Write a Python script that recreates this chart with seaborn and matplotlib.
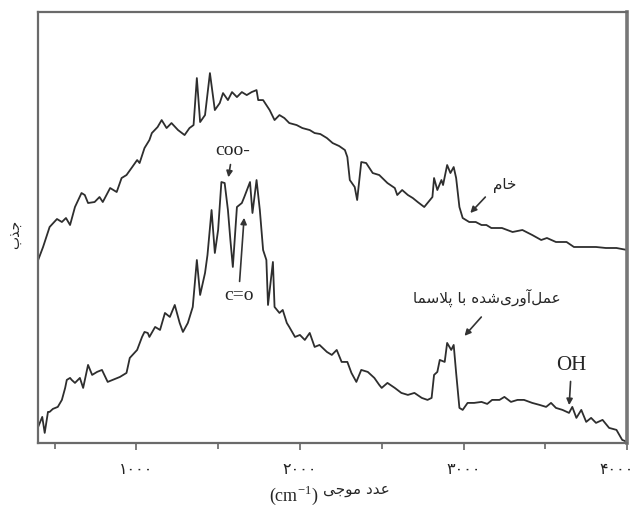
import numpy as np
import pandas as pd
import seaborn as sns
import matplotlib.pyplot as plt
import matplotlib.transforms as mtrans
from matplotlib.ticker import MultipleLocator

# wavenumber (cm-1) and absorbance (a.u.)
raw_wn = [400, 430, 470, 515, 545, 570, 595, 625, 665, 685, 705, 745, 775, 795,
          840, 880, 910, 940, 975, 1005, 1020, 1050, 1080, 1095, 1130, 1155, 1185,
          1215, 1255, 1295, 1325, 1350, 1370, 1390, 1420, 1450, 1480, 1510, 1530,
          1560, 1585, 1615, 1645, 1675, 1705, 1735, 1745, 1775, 1815, 1845, 1875,
          1905, 1935, 1980, 2015, 2060, 2090, 2125, 2165, 2200, 2240, 2275, 2290,
          2305, 2335, 2350, 2375, 2405, 2445, 2485, 2535, 2580, 2595, 2625, 2660,
          2690, 2720, 2760, 2780, 2810, 2820, 2840, 2865, 2875, 2900, 2920, 2940,
          2955, 2975, 2995, 3035, 3075, 3110, 3140, 3170, 3235, 3300, 3360, 3420,
          3475, 3510, 3565, 3630, 3675, 3750, 3810, 3870, 3935, 4000]
raw_abs = [1.83, 1.96, 2.16, 2.24, 2.21, 2.25, 2.18, 2.36, 2.50, 2.48, 2.40, 2.41,
           2.46, 2.41, 2.55, 2.51, 2.65, 2.68, 2.76, 2.83, 2.80, 2.95, 3.03, 3.10,
           3.16, 3.23, 3.15, 3.20, 3.13, 3.08, 3.15, 3.18, 3.65, 3.21, 3.28, 3.70,
           3.33, 3.40, 3.50, 3.43, 3.51, 3.46, 3.51, 3.48, 3.51, 3.53, 3.43, 3.43,
           3.33, 3.23, 3.28, 3.25, 3.20, 3.18, 3.15, 3.13, 3.10, 3.09, 3.05, 3.00,
           2.97, 2.93, 2.86, 2.63, 2.56, 2.43, 2.81, 2.80, 2.70, 2.68, 2.60, 2.55,
           2.48, 2.53, 2.48, 2.45, 2.41, 2.36, 2.40, 2.46, 2.65, 2.53, 2.63, 2.58,
           2.78, 2.70, 2.76, 2.65, 2.36, 2.25, 2.21, 2.21, 2.18, 2.18, 2.15, 2.15,
           2.11, 2.13, 2.08, 2.03, 2.05, 2.01, 2.01, 1.96, 1.96, 1.96, 1.95, 1.95,
           1.93]

plasma_wn = [400, 425, 440, 460, 470, 490, 520, 545, 565, 575, 595, 605, 625, 655,
             675, 705, 730, 760, 790, 825, 855, 900, 940, 960, 1005, 1035, 1050,
             1070, 1080, 1115, 1145, 1175, 1205, 1235, 1265, 1285, 1315, 1345, 1370,
             1390, 1420, 1435, 1460, 1480, 1500, 1520, 1540, 1560, 1575, 1590, 1615,
             1645, 1660, 1695, 1710, 1735, 1755, 1775, 1795, 1805, 1835, 1845, 1875,
             1895, 1920, 1935, 1970, 2000, 2030, 2060, 2090, 2120, 2165, 2195, 2225,
             2255, 2290, 2315, 2345, 2375, 2415, 2455, 2485, 2500, 2535, 2580, 2620,
             2660, 2700, 2745, 2780, 2805, 2820, 2840, 2855, 2885, 2900, 2925, 2940,
             2955, 2975, 2995, 3025, 3065, 3110, 3145, 3175, 3220, 3250, 3290, 3330,
             3370, 3420, 3465, 3505, 3535, 3565, 3605, 3645, 3665, 3690, 3720, 3750,
             3780, 3810, 3850, 3890, 3935, 3970, 4000]
plasma_abs = [0.16, 0.26, 0.10, 0.31, 0.31, 0.34, 0.36, 0.43, 0.55, 0.63, 0.65,
              0.63, 0.60, 0.65, 0.55, 0.78, 0.68, 0.71, 0.73, 0.61, 0.63, 0.66,
              0.70, 0.85, 0.93, 1.06, 1.11, 1.10, 1.06, 1.16, 1.13, 1.30, 1.26,
              1.38, 1.20, 1.11, 1.20, 1.36, 1.83, 1.48, 1.70, 1.88, 2.33, 1.90,
              2.13, 2.61, 2.60, 2.33, 2.03, 1.76, 2.36, 2.40, 2.46, 2.61, 2.30,
              2.63, 2.33, 1.93, 1.83, 1.38, 1.81, 1.36, 1.30, 1.33, 1.20, 1.16,
              1.06, 1.08, 1.03, 1.10, 0.96, 0.98, 0.91, 0.88, 0.93, 0.81, 0.81,
              0.70, 0.61, 0.73, 0.71, 0.65, 0.58, 0.55, 0.60, 0.55, 0.50, 0.48,
              0.50, 0.45, 0.43, 0.45, 0.68, 0.71, 0.83, 0.81, 1.00, 0.93, 0.98,
              0.70, 0.35, 0.33, 0.40, 0.40, 0.41, 0.39, 0.43, 0.43, 0.46, 0.41,
              0.43, 0.43, 0.40, 0.38, 0.36, 0.40, 0.35, 0.33, 0.30, 0.36, 0.25,
              0.33, 0.21, 0.25, 0.20, 0.23, 0.15, 0.13, 0.03, 0.01]

tick_pos = [1000, 2000, 3000, 4000]
tick_labels = ["\u06F1\u06F0\u06F0\u06F0", "\u06F2\u06F0\u06F0\u06F0",
               "\u06F3\u06F0\u06F0\u06F0", "\u06F4\u06F0\u06F0\u06F0"]

# Persian strings, pre-shaped (presentation forms, visual order) since
# matplotlib does no Arabic shaping / bidi
lbl_absorb = "\uFE8F\uFEAC\uFE9F"                       # جذب
lbl_wave = "\uFBFD\uFE9F\uFEEE\uFEE3 \uFEA9\uFEAA\uFECB"   # عدد موجی
lbl_raw = "\uFEE1\uFE8E\uFEA7"                            # خام
lbl_plasma = ("\uFE8E\uFEE4\uFEB3\uFEFC\uFB58 \uFE8E\uFE91 "
              "\uFEE9\uFEAA\uFEB7\uFBFC\uFEAD\uFEED\uFE81\uFEDE\uFEE4\uFECB")  # عمل‌آوری‌شده با پلاسما

sns.set_style("white")
plt.rcParams['font.family'] = ['DejaVu Sans']

df_raw = pd.DataFrame({"wn": raw_wn, "A": raw_abs})
df_pl = pd.DataFrame({"wn": plasma_wn, "A": plasma_abs})

fig = plt.figure(figsize=(6.36, 5.05), dpi=100)
ax = fig.add_axes([0.06, 0.123, 0.926, 0.853])

line_c = "#2e2e2e"
sns.lineplot(data=df_raw, x="wn", y="A", color=line_c, lw=1.3, ax=ax)
sns.lineplot(data=df_pl, x="wn", y="A", color=line_c, lw=1.3, ax=ax)

ax.set_xlim(400, 4000)
ax.set_ylim(0, 4.31)
ax.set_xlabel("")
ax.set_ylabel("")
ax.set_yticks([])
ax.set_xticks(tick_pos)
ax.set_xticklabels(tick_labels, fontsize=11.5, color="#222222")
ax.xaxis.set_minor_locator(MultipleLocator(500))
ax.tick_params(axis="x", which="major", direction="out", length=5, width=1.2,
               color="#666666", pad=9, bottom=True)
ax.tick_params(axis="x", which="minor", direction="out", length=4, width=1.2,
               color="#666666", bottom=True)

# last label sits against the figure edge
last = ax.get_xticklabels()[-1]
last.set_ha("right")
last.set_transform(last.get_transform() +
                   mtrans.ScaledTranslation(7 / 100, 0, fig.dpi_scale_trans))

for side in ["left", "bottom", "top"]:
    ax.spines[side].set_color("#6a6a6a")
    ax.spines[side].set_linewidth(1.6)
ax.spines["right"].set_color("#777777")
ax.spines["right"].set_linewidth(2.6)

serif = "Liberation Serif"
arrow = dict(arrowstyle="-|>", color="#333333", lw=1.2, mutation_scale=9)

ax.annotate("coo-", xy=(1560, 2.63), xytext=(1590, 2.93), ha="center",
            va="center", fontsize=14, family=serif, arrowprops=arrow)
ax.annotate("c=o", xy=(1660, 2.28), xytext=(1625, 1.47), ha="center",
            va="center", fontsize=14, family=serif, arrowprops=arrow)
ax.annotate("OH", xy=(3645, 0.35), xytext=(3660, 0.77), ha="center",
            va="center", fontsize=15, family=serif, arrowprops=arrow)

ax.annotate("", xy=(3030, 2.28), xytext=(3145, 2.48), arrowprops=arrow)
ax.text(3250, 2.58, lbl_raw, ha="center", va="center", fontsize=11)
ax.annotate("", xy=(2995, 1.05), xytext=(3120, 1.28), arrowprops=arrow)
ax.text(3140, 1.45, lbl_plasma, ha="center", va="center", fontsize=11)

fig.text(0.024, 0.535, lbl_absorb, rotation=90, ha="center", va="center",
         fontsize=10)
fig.text(0.50, 0.020, r"(cm$^{\mathregular{-1}}$)", ha="right", va="center",
         fontsize=13, family=serif)
fig.text(0.508, 0.030, lbl_wave, ha="left", va="center", fontsize=11)

plt.savefig("out.png", dpi=100)
